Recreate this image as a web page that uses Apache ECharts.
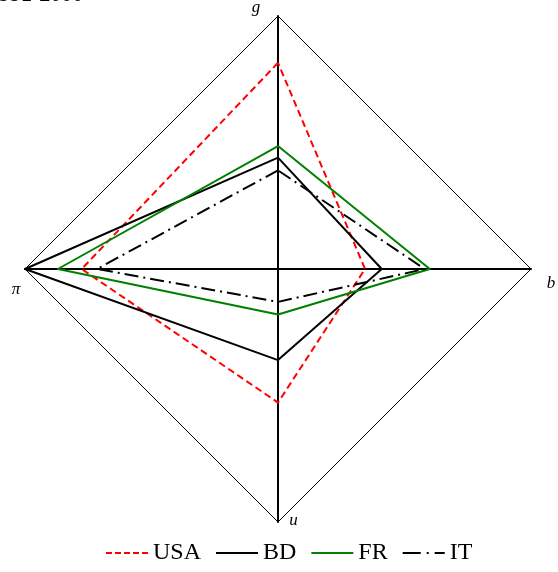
<!DOCTYPE html>
<html>
<head>
<meta charset="utf-8">
<script src="https://cdn.jsdelivr.net/npm/echarts@6/dist/echarts.min.js"></script>
<style>html,body{margin:0;padding:0;background:#fff}#c{width:558px;height:572px}</style>
</head>
<body>
<div id="c"></div>
<script>
const titleText = "1991-2000";
const indicatorNames = ["g", "π", "u", "b"];
const seriesNames = ["USA", "BD", "FR", "IT"];
const usa = [0.815, 0.776, 0.528, 0.344];
const bd = [0.44, 1.0, 0.36, 0.41];
const fr = [0.486, 0.87, 0.18, 0.60];
const it = [0.39, 0.715, 0.13, 0.58];

const serif = "'Liberation Serif','Times New Roman',serif";
const colors = {USA: "#ff0000", BD: "#000000", FR: "#008000", IT: "#000000"};
const lineTypes = {USA: [7, 4], BD: "solid", FR: "solid", IT: [14, 5, 2, 5]};
const icons = {
  USA: "path://M0,0h6v2h-6zM9,0h6v2h-6zM18,0h6v2h-6zM27,0h6v2h-6zM36,0h6v2h-6z",
  BD: "path://M0,0h42v2h-42z",
  FR: "path://M0,0h42v2h-42z",
  IT: "path://M0,0h18v2h-18zM24,0h2v2h-2zM32,0h10v2h-10z"
};
const values = {USA: usa, BD: bd, FR: fr, IT: it};

// label offsets via rich padding [top,right,bottom,left]
const rich = {
  g: {padding: [0, 44, 16, 0]},
  "π": {padding: [42, 18, 0, 0]},
  u: {padding: [0, 0, 2, 31]},
  b: {padding: [30, 0, 0, 40]}
};
const richKey = {g: "g", "π": "p", u: "u", b: "b"};
const richStyles = {};
indicatorNames.forEach(n => { richStyles[richKey[n]] = Object.assign({fontFamily: serif, fontStyle: "italic", fontSize: 17, color: "#000"}, rich[n]); });

const chart = echarts.init(document.getElementById("c"), null, {renderer: "canvas"});
chart.setOption({
  animation: false,
  backgroundColor: "#fff",
  title: {
    text: titleText, left: -12, top: -16, padding: 0,
    textStyle: {fontFamily: serif, fontWeight: "bold", fontSize: 22, color: "#000"}
  },
  legend: {
    bottom: 7, left: 106, itemGap: 15, itemWidth: 42, itemHeight: 2, padding: 0,
    data: seriesNames.map(n => ({name: n, icon: icons[n]})),
    textStyle: {fontFamily: serif, fontSize: 24, color: "#000"}
  },
  radar: {
    center: [278, 269], radius: 253, shape: "polygon", splitNumber: 1,
    indicator: indicatorNames.map(n => ({name: n, min: 0, max: 1})),
    nameGap: 0,
    axisName: {
      align: "center", verticalAlign: "middle",
      formatter: (name) => "{" + richKey[name] + "|" + name + "}",
      rich: richStyles
    },
    axisLine: {lineStyle: {color: "#000", width: 2}},
    splitLine: {lineStyle: {color: "#000", width: 1}},
    splitArea: {show: false},
    axisTick: {show: false},
    axisLabel: {show: false}
  },
  series: [{
    type: "radar", symbol: "none",
    data: seriesNames.map(n => ({
      name: n, value: values[n],
      itemStyle: {color: colors[n]},
      lineStyle: {color: colors[n], width: 2, type: lineTypes[n]}
    }))
  }]
});
</script>
</body>
</html>
